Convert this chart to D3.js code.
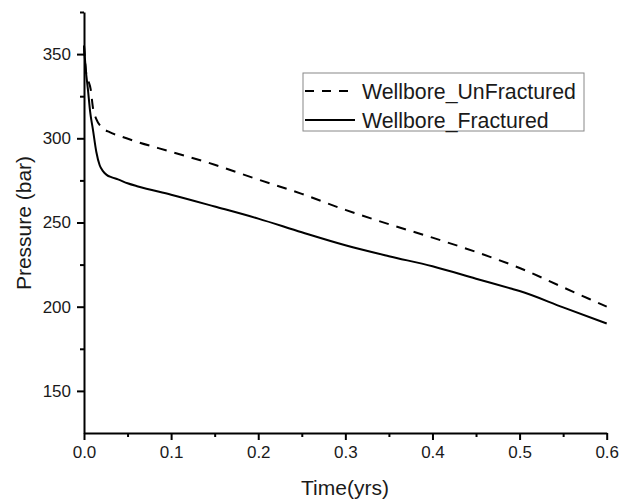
<!DOCTYPE html>
<html>
<head>
<meta charset="utf-8">
<script src="https://cdn.jsdelivr.net/npm/d3@7"></script>
<style>
  html, body { margin: 0; padding: 0; background: #fff; }
  svg { display: block; font-family: "Liberation Sans", Arial, sans-serif; }
</style>
</head>
<body>
<svg id="chart" width="631" height="501"></svg>
<script>
// Wellbore pressure over time (years), bar
const timeUnfractured = [0, 0.002, 0.0045, 0.0077, 0.0103, 0.014, 0.0195, 0.03, 0.041, 0.058, 0.1, 0.15, 0.2, 0.25, 0.3, 0.35, 0.4, 0.45, 0.5, 0.55, 0.6];
const pressureUnfractured = [355, 341, 335, 329, 318, 311.5, 307, 303.5, 301.4, 298.4, 292, 284.3, 275.5, 267, 257.5, 249, 241, 232.5, 223, 211.5, 200];

const timeFractured = [0, 0.002, 0.0045, 0.007, 0.0103, 0.0141, 0.018, 0.0218, 0.026, 0.032, 0.039, 0.05, 0.062, 0.1, 0.15, 0.2, 0.25, 0.3, 0.35, 0.4, 0.45, 0.49, 0.5, 0.55, 0.6];
const pressureFractured = [355, 341, 329, 316, 305, 292, 284, 280.5, 278.3, 276.8, 275.6, 273.3, 271.4, 266.5, 259.5, 252.3, 244.2, 236.5, 230, 224, 216.6, 210.8, 209.3, 199.6, 190];

const seriesNames = ["Wellbore_UnFractured", "Wellbore_Fractured"];
const xMajorTicks = [0, 0.1, 0.2, 0.3, 0.4, 0.5, 0.6];
const xMinorTicks = [0.05, 0.15, 0.25, 0.35, 0.45, 0.55];
const yMajorTicks = [150, 200, 250, 300, 350];
const yMinorTicks = [175, 225, 275, 325, 375];

const svg = d3.select("#chart");
const x = d3.scaleLinear().domain([0, 0.6]).range([84, 606.7]);
const y = d3.scaleLinear().domain([125, 375]).range([433, 12]);

const series = [
  { name: seriesNames[0], dash: "10,8", pts: timeUnfractured.map((t, i) => [t, pressureUnfractured[i]]) },
  { name: seriesNames[1], dash: null, pts: timeFractured.map((t, i) => [t, pressureFractured[i]]) }
];

const line = d3.line().x(d => x(d[0])).y(d => y(d[1])).curve(d3.curveMonotoneX);

// curves
svg.append("g").selectAll("path").data(series).join("path")
  .attr("d", d => line(d.pts))
  .attr("fill", "none")
  .attr("stroke", "#000")
  .attr("stroke-width", 2)
  .attr("stroke-dasharray", d => d.dash);

// x axis (major + minor ticks)
const xAxisG = svg.append("g").attr("transform", `translate(0,${y(125)})`);
xAxisG.call(d3.axisBottom(x).tickValues(xMajorTicks).tickFormat(d3.format(".1f")).tickSize(7).tickSizeOuter(0).tickPadding(6));
svg.append("g").attr("transform", `translate(0,${y(125)})`)
  .call(d3.axisBottom(x).tickValues(xMinorTicks).tickFormat("").tickSize(4).tickSizeOuter(0))
  .select(".domain").remove();

// y axis (major + minor ticks)
const yAxisG = svg.append("g").attr("transform", `translate(${x(0)},0)`);
yAxisG.call(d3.axisLeft(y).tickValues(yMajorTicks).tickSize(7).tickSizeOuter(0).tickPadding(6));
svg.append("g").attr("transform", `translate(${x(0)},0)`)
  .call(d3.axisLeft(y).tickValues(yMinorTicks).tickFormat("").tickSize(4).tickSizeOuter(0))
  .select(".domain").remove();

svg.selectAll(".domain, .tick line").attr("stroke", "#000").attr("stroke-width", 2);
svg.selectAll(".tick text").attr("font-size", 17).attr("fill", "#1a1a1a")
  .attr("font-family", "'Liberation Sans', Arial, sans-serif");

// axis titles
svg.append("text")
  .attr("x", 345).attr("y", 495)
  .attr("text-anchor", "middle").attr("font-size", 21).attr("fill", "#1a1a1a")
  .text("Time(yrs)");
svg.append("text")
  .attr("transform", `translate(31,223) rotate(-90)`)
  .attr("text-anchor", "middle").attr("font-size", 21).attr("fill", "#1a1a1a")
  .text("Pressure (bar)");

// legend
const legend = svg.append("g").attr("transform", "translate(303,73)");
legend.append("rect").attr("width", 281).attr("height", 58)
  .attr("fill", "#fff").attr("stroke", "#888").attr("stroke-width", 1);
const rows = legend.selectAll("g.row").data(series).join("g")
  .attr("class", "row")
  .attr("transform", (d, i) => `translate(0,${18 + i * 29})`);
rows.append("line").attr("x1", 2).attr("x2", 52)
  .attr("stroke", "#000").attr("stroke-width", 2)
  .attr("stroke-dasharray", d => d.dash ? "9,8" : null);
rows.append("text").attr("x", 59).attr("y", 7.5)
  .attr("font-size", 21.3).attr("fill", "#1a1a1a")
  .text(d => d.name);
</script>
</body>
</html>
